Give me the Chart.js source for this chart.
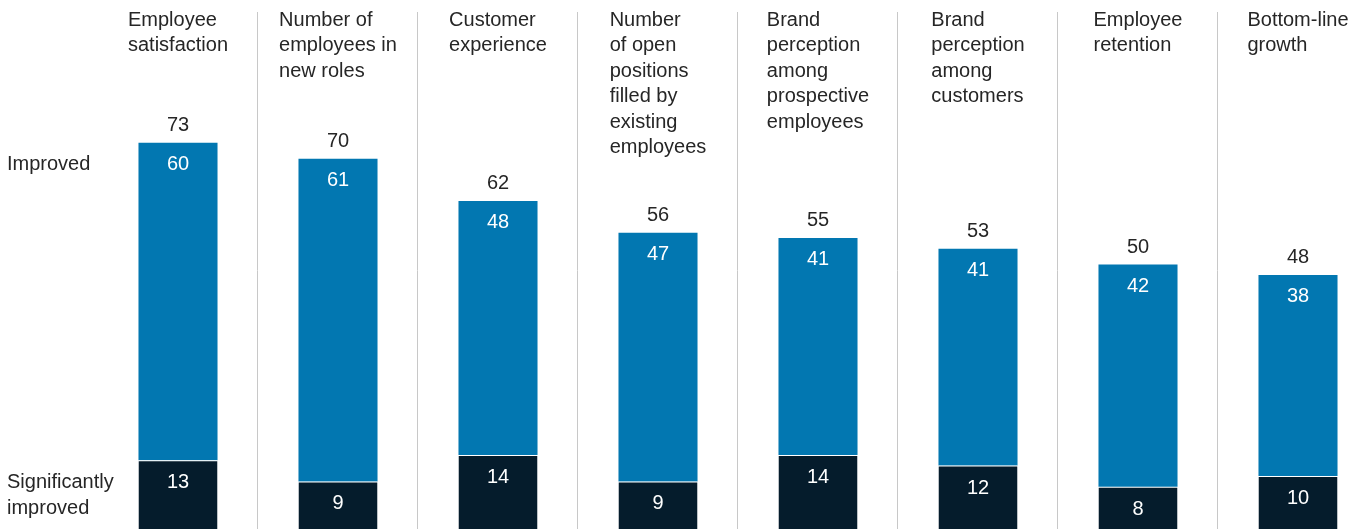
<!DOCTYPE html>
<html>
<head>
<meta charset="utf-8">
<script src="https://cdn.jsdelivr.net/npm/chart.js@4/dist/chart.umd.min.js"></script>
<style>
  html, body { margin: 0; padding: 0; background: #fff; overflow: hidden; }
  #wrap { width: 1380px; height: 529px; position: relative; }
</style>
</head>
<body>
<div id="wrap"><canvas id="c"></canvas></div>
<script>
const categories = [
  ["Employee", "satisfaction"],
  ["Number of", "employees in", "new roles"],
  ["Customer", "experience"],
  ["Number", "of open", "positions", "filled by", "existing", "employees"],
  ["Brand", "perception", "among", "prospective", "employees"],
  ["Brand", "perception", "among", "customers"],
  ["Employee", "retention"],
  ["Bottom-line", "growth"]
];
const significantlyImproved = [13, 9, 14, 9, 14, 12, 8, 10];
const improved = [60, 61, 48, 47, 41, 41, 42, 38];
const totals = [73, 70, 62, 56, 55, 53, 50, 48];
const seriesNames = ["Significantly improved", "Improved"];
const rowLabels = [["Improved"], ["Significantly", "improved"]];

const FONT = '"Liberation Sans", Arial, sans-serif';
const DARK = '#051C2C';
const BLUE = '#0277B1';
const TEXT = '#262626';

const labelPlugin = {
  id: 'labels',
  beforeDatasetsDraw(chart) {
    const ctx = chart.ctx;
    const meta = chart.getDatasetMeta(0);
    ctx.save();
    ctx.strokeStyle = '#c8c8c8';
    ctx.lineWidth = 1;
    for (let i = 0; i < meta.data.length - 1; i++) {
      const x = Math.floor((meta.data[i].x + meta.data[i + 1].x) / 2) - 0.5;
      ctx.beginPath();
      ctx.moveTo(x, 12);
      ctx.lineTo(x, chart.height);
      ctx.stroke();
    }
    ctx.restore();
  },
  afterDatasetsDraw(chart) {
    const ctx = chart.ctx;
    const m0 = chart.getDatasetMeta(0);
    const m1 = chart.getDatasetMeta(1);
    ctx.save();
    ctx.font = '20px ' + FONT;
    ctx.textBaseline = 'alphabetic';
    categories.forEach((lines, i) => {
      const cx = m0.data[i].x;
      const w = Math.max(...lines.map(l => ctx.measureText(l).width));
      const x0 = cx - w / 2;
      ctx.fillStyle = TEXT;
      ctx.textAlign = 'left';
      lines.forEach((l, j) => ctx.fillText(l, x0, 26 + 25.4 * j));
    });
    ctx.textAlign = 'center';
    for (let i = 0; i < totals.length; i++) {
      const b0 = m0.data[i], b1 = m1.data[i];
      ctx.fillStyle = TEXT;
      ctx.fillText(String(totals[i]), b1.x, b1.y - 12);
      ctx.fillStyle = '#ffffff';
      ctx.fillText(String(improved[i]), b1.x, b1.y + 27);
      ctx.fillText(String(significantlyImproved[i]), b0.x, b0.y + 28);
    }
    ctx.textAlign = 'left';
    ctx.fillStyle = TEXT;
    const y1 = m1.data[0].y + 27;
    rowLabels[0].forEach((l, j) => ctx.fillText(l, 7, y1 + 25.4 * j));
    const y2 = m0.data[0].y + 28;
    rowLabels[1].forEach((l, j) => ctx.fillText(l, 7, y2 + 25.4 * j));
    ctx.restore();
  }
};

new Chart(document.getElementById('c'), {
  type: 'bar',
  data: {
    labels: categories.map(c => c.join(' ')),
    datasets: [
      {
        label: seriesNames[0],
        data: significantlyImproved,
        backgroundColor: DARK,
        borderColor: '#ffffff',
        borderWidth: { top: 1, left: 0, right: 0, bottom: 0 },
        borderSkipped: false,
        barPercentage: 0.494,
        categoryPercentage: 1
      },
      {
        label: seriesNames[1],
        data: improved,
        backgroundColor: BLUE,
        borderWidth: 0,
        barPercentage: 0.494,
        categoryPercentage: 1
      }
    ]
  },
  options: {
    responsive: true,
    maintainAspectRatio: false,
    animation: false,
    layout: { padding: { left: 98, right: 2, top: 0, bottom: 0 } },
    plugins: { legend: { display: false }, tooltip: { enabled: false } },
    scales: {
      x: { stacked: true, display: false },
      y: { stacked: true, display: false, min: 0, max: 100 }
    }
  },
  plugins: [labelPlugin]
});
</script>
</body>
</html>
